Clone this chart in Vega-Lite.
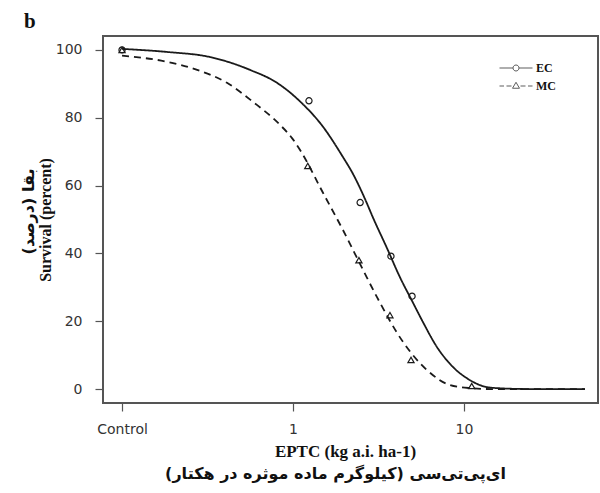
{
  "$schema": "https://vega.github.io/schema/vega-lite/v6.json",
  "width": 495,
  "height": 367,
  "autosize": {"type": "none"},
  "padding": {"left": 103, "top": 36, "right": 2, "bottom": 90},
  "background": "white",
  "title": {"text": "b", "anchor": "start", "frame": "group", "font": "Liberation Serif", "fontSize": 21, "fontWeight": "bold", "color": "#111", "dx": -79, "dy": 22, "offset": 9, "baseline": "alphabetic"},
  "config": {
    "view": {"stroke": "#555", "strokeWidth": 2},
    "axis": {"grid": false, "domain": false, "tickColor": "#555", "tickSize": 8, "tickWidth": 1.2, "labelFont": "DejaVu Sans", "labelFontSize": 14, "labelColor": "#333", "titleFont": "Liberation Serif", "titleFontSize": 17, "titleFontWeight": "bold", "titleColor": "#111"}
  },
  "datasets": {
    "curves": [
      {"series": "EC", "dose": 0.1, "survival": 100.3},
      {"series": "EC", "dose": 0.183, "survival": 99.4},
      {"series": "EC", "dose": 0.327, "survival": 97.9},
      {"series": "EC", "dose": 0.561, "survival": 94.1},
      {"series": "EC", "dose": 0.806, "survival": 90.3},
      {"series": "EC", "dose": 1.1, "survival": 84.8},
      {"series": "EC", "dose": 1.5, "survival": 77.3},
      {"series": "EC", "dose": 1.96, "survival": 68.4},
      {"series": "EC", "dose": 2.24, "survival": 63.5},
      {"series": "EC", "dose": 2.64, "survival": 56.0},
      {"series": "EC", "dose": 2.94, "survival": 50.5},
      {"series": "EC", "dose": 3.55, "survival": 41.5},
      {"series": "EC", "dose": 4.22, "survival": 33.0},
      {"series": "EC", "dose": 4.97, "survival": 26.0},
      {"series": "EC", "dose": 5.75, "survival": 19.8},
      {"series": "EC", "dose": 6.95, "survival": 12.4},
      {"series": "EC", "dose": 8.63, "survival": 6.5},
      {"series": "EC", "dose": 10.8, "survival": 2.7},
      {"series": "EC", "dose": 13.6, "survival": 0.6},
      {"series": "EC", "dose": 16.9, "survival": 0.2},
      {"series": "EC", "dose": 25, "survival": 0},
      {"series": "EC", "dose": 51, "survival": 0},
      {"series": "MC", "dose": 0.1, "survival": 98.3},
      {"series": "MC", "dose": 0.183, "survival": 96.5},
      {"series": "MC", "dose": 0.275, "survival": 94.1},
      {"series": "MC", "dose": 0.411, "survival": 90.3},
      {"series": "MC", "dose": 0.583, "survival": 84.7},
      {"series": "MC", "dose": 0.84, "survival": 77.9},
      {"series": "MC", "dose": 0.987, "survival": 74.0},
      {"series": "MC", "dose": 1.1, "survival": 70.5},
      {"series": "MC", "dose": 1.5, "survival": 57.8},
      {"series": "MC", "dose": 1.96, "survival": 46.9},
      {"series": "MC", "dose": 2.57, "survival": 35.1},
      {"series": "MC", "dose": 3.1, "survival": 27.1},
      {"series": "MC", "dose": 4.4, "survival": 13.9},
      {"series": "MC", "dose": 6.08, "survival": 5.6},
      {"series": "MC", "dose": 8.28, "survival": 1.2},
      {"series": "MC", "dose": 10.8, "survival": 0.3},
      {"series": "MC", "dose": 15, "survival": 0},
      {"series": "MC", "dose": 51, "survival": 0}
    ],
    "points": [
      {"series": "EC", "dose": 0.1, "survival": 100},
      {"series": "EC", "dose": 1.24, "survival": 85},
      {"series": "EC", "dose": 2.47, "survival": 55},
      {"series": "EC", "dose": 3.74, "survival": 39.2},
      {"series": "EC", "dose": 4.97, "survival": 27.4},
      {"series": "MC", "dose": 0.1, "survival": 100},
      {"series": "MC", "dose": 1.22, "survival": 65.8},
      {"series": "MC", "dose": 2.43, "survival": 38},
      {"series": "MC", "dose": 3.69, "survival": 21.8},
      {"series": "MC", "dose": 4.9, "survival": 8.6},
      {"series": "MC", "dose": 11.1, "survival": 0.9}
    ]
  },
  "layer": [
    {
      "data": {"name": "curves"},
      "mark": {"type": "line", "interpolate": "monotone", "strokeWidth": 1.8, "color": "#1a1a1a"},
      "encoding": {
        "x": {"field": "dose", "type": "quantitative", "scale": {"type": "log", "domain": [0.0774, 60.8], "nice": false},
              "axis": {"orient": "bottom", "values": [0.1, 1, 10], "labelExpr": "datum.value < 0.5 ? 'Control' : datum.value < 5 ? '1' : '10'", "labelPadding": 11, "title": "EPTC (kg a.i. ha-1)", "titlePadding": 7, "titleX": 242}},
        "y": {"field": "survival", "type": "quantitative", "scale": {"domain": [-4.1, 104.1], "nice": false, "zero": false},
              "axis": {"orient": "left", "values": [0, 20, 40, 60, 80, 100], "labelPadding": 13, "title": "Survival (percent)", "titleFontSize": 16, "titlePadding": 2}},
        "strokeDash": {"field": "series", "type": "nominal", "scale": {"domain": ["EC", "MC"], "range": [[1, 0], [7, 5]]}, "legend": null}
      }
    },
    {
      "data": {"name": "points"},
      "mark": {"type": "point", "filled": false, "color": "#1a1a1a", "strokeWidth": 1.2, "size": 38, "opacity": 1},
      "encoding": {
        "x": {"field": "dose", "type": "quantitative",
              "axis": {"orient": "bottom", "labels": false, "ticks": false, "domain": false, "title": "ای‌پی‌تی‌سی (کیلوگرم ماده موثره در هکتار)", "titleFont": "DejaVu Sans", "titleFontSize": 16, "titleFontWeight": "bold", "titlePadding": 62, "titleX": 232}},
        "y": {"field": "survival", "type": "quantitative",
              "axis": {"orient": "left", "labels": false, "ticks": false, "domain": false, "title": "بقا (درصد)", "titleFont": "DejaVu Sans", "titleFontSize": 16, "titleFontWeight": "bold", "titlePadding": 67, "titleY": 175}},
        "shape": {"field": "series", "type": "nominal", "scale": {"domain": ["EC", "MC"], "range": ["circle", "triangle-up"]}, "legend": null}
      }
    },
    {
      "data": {"name": "points"},
      "transform": [{"filter": "datum.survival > 1000"}],
      "mark": {"type": "point", "filled": false, "color": "#1a1a1a", "strokeWidth": 1},
      "encoding": {
        "x": {"field": "dose", "type": "quantitative", "axis": null},
        "y": {"field": "survival", "type": "quantitative", "axis": null},
        "shape": {"field": "series", "type": "nominal",
                  "scale": {"domain": ["EC", "MC"], "range": ["M-3.3,0H-0.6M0.6,0H3.3M0.6,0A0.6,0.6,0,1,1,-0.6,0A0.6,0.6,0,1,1,0.6,0", "M-3.3,0H-2.4M-1.9,0H-0.9M0.9,0H1.9M2.4,0H3.3M0,-0.75L0.7,0.45L-0.7,0.45Z"]},
                  "legend": {"title": null, "orient": "none", "legendX": 407, "legendY": 26, "symbolSize": 100, "labelFont": "Liberation Serif", "labelFontSize": 12, "labelFontWeight": "bold", "labelColor": "#111", "labelOffset": 14, "rowPadding": 6, "padding": 0, "symbolStrokeColor": "#1a1a1a", "symbolFillColor": "transparent", "symbolStrokeWidth": 1}}
      }
    }
  ],
  "resolve": {"scale": {"shape": "independent"}, "axis": {"x": "independent", "y": "independent"}}
}
